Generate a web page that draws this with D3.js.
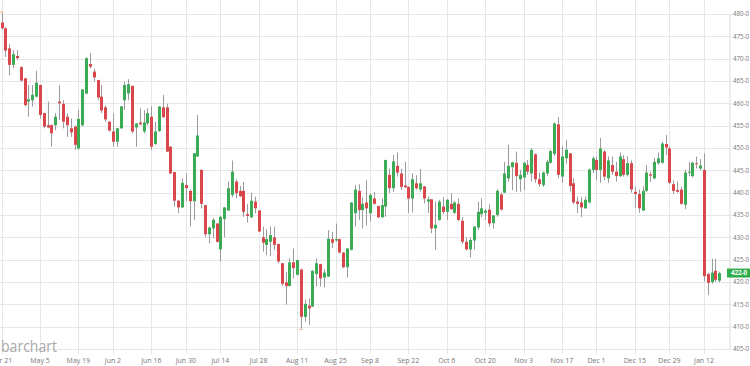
<!DOCTYPE html>
<html>
<head>
<meta charset="utf-8">
<script src="https://cdn.jsdelivr.net/npm/d3@7/dist/d3.min.js"></script>
<style>
  body { margin: 0; background: #fff; }
  svg { display: block; font-family: "Open Sans", sans-serif; }
</style>
</head>
<body>
<div id="chart"></div>
<script>
// trading calendar
const startDate = "2025-04-21";
const endDate = "2026-01-16";
const holidays = ["2025-05-26", "2025-06-19", "2025-07-04", "2025-09-01", "2025-11-27", "2025-12-25", "2026-01-01"];
const tickDates = ["2025-04-21", "2025-05-05", "2025-05-19", "2025-06-02", "2025-06-16", "2025-06-30",
  "2025-07-14", "2025-07-28", "2025-08-11", "2025-08-25", "2025-09-08", "2025-09-22", "2025-10-06",
  "2025-10-20", "2025-11-03", "2025-11-17", "2025-12-01", "2025-12-15", "2025-12-29", "2026-01-12"];
const priceTicks = [405, 410, 415, 420, 425, 430, 435, 440, 445, 450, 455, 460, 465, 470, 475, 480];
const lastPrice = 422.0;

// daily OHLC, one entry per trading day
const open = [478.1,476.8,472.3,468.6,470.6,468.1,465.6,460.4,460.7,461.5,
  464.1,457.8,455.1,455.1,455.1,460.4,459.9,457.0,454.4,454.8,
  449.9,455.1,462.2,468.8,467.1,465.2,461.5,459.1,455.9,453.7,
  451.4,454.4,460.7,462.2,463.9,454.6,455.7,453.7,455.5,457.0,
  450.9,453.8,459.1,459.1,450.3,444.6,438.2,436.7,441.7,440.4,
  438.1,448.1,445.1,437.2,430.7,432.0,433.1,427.3,434.1,436.0,
  439.5,442.5,440.4,440.4,435.2,434.5,438.0,436.0,430.0,428.3,
  429.0,430.0,428.5,424.2,419.9,419.1,424.4,421.6,422.8,412.2,
  414.7,414.5,421.8,424.0,421.0,421.2,429.6,429.3,429.6,426.6,
  423.3,427.2,435.4,440.4,436.1,437.8,435.4,438.7,437.0,434.5,
  436.9,444.0,441.0,446.0,444.3,441.6,441.3,438.7,442.1,440.7,
  441.4,438.0,438.5,432.0,433.9,436.9,435.7,437.5,435.5,437.5,
  433.7,429.0,427.3,429.3,432.2,435.2,435.5,436.2,433.2,435.0,
  439.6,440.0,443.2,445.7,446.7,443.0,443.4,446.2,444.3,448.6,
  443.0,441.7,444.3,446.7,448.7,455.3,443.6,447.7,448.8,442.1,
  438.0,437.8,436.5,437.8,445.1,447.3,445.1,449.2,443.2,446.2,
  444.7,443.7,447.5,444.0,446.6,440.2,439.7,436.0,440.4,444.1,
  443.2,446.6,446.7,450.9,449.9,441.9,440.6,440.7,437.3,444.5,
  443.7,446.6,445.4,445.1,421.8,420.0,422.5,420.3];
const high = [480.2,477.0,473.3,471.9,471.9,468.3,465.7,464.1,464.1,467.3,
  464.2,457.9,460.4,455.3,457.8,464.1,460.7,457.8,456.6,455.0,
  458.5,463.2,470.3,471.2,467.8,465.3,464.1,459.6,456.0,457.8,
  454.5,459.4,464.9,465.4,464.0,455.6,458.9,458.5,458.9,459.3,
  455.9,459.4,461.9,459.9,450.4,444.7,438.4,443.2,444.3,440.7,
  448.9,457.4,445.2,437.3,432.4,434.3,433.2,434.7,436.8,442.5,
  447.2,443.0,441.5,442.4,437.5,440.0,439.1,436.1,432.4,431.8,
  432.4,432.4,428.6,424.3,422.3,425.3,427.5,425.0,423.0,416.0,
  416.3,422.6,425.3,424.1,422.9,431.6,431.2,433.1,429.7,426.7,
  427.6,437.9,441.7,441.9,438.9,442.8,439.9,440.2,437.1,438.7,
  447.4,445.4,448.5,449.0,445.4,446.9,441.4,444.3,443.9,445.3,
  441.5,439.1,438.6,438.0,438.4,439.0,438.6,439.8,438.1,438.7,
  434.5,430.0,430.0,432.5,438.0,438.7,436.3,437.4,435.0,440.8,
  440.0,446.9,450.7,446.9,449.2,445.1,446.8,447.3,449.9,448.8,
  444.5,444.7,447.4,449.6,455.7,456.9,450.4,451.8,448.9,443.2,
  439.1,439.1,439.1,445.4,448.1,448.1,452.2,449.6,448.1,448.1,
  446.9,449.0,448.4,448.1,447.2,441.3,440.7,441.4,446.2,444.7,
  447.8,449.0,451.4,452.9,450.3,442.8,442.5,441.3,445.1,446.9,
  447.0,448.1,447.5,448.8,422.0,425.2,425.2,422.3];
const low = [476.5,470.4,466.3,467.8,469.8,464.9,459.3,457.0,459.3,461.3,
  456.6,454.4,454.4,450.3,454.0,456.3,454.4,452.5,452.5,449.6,
  449.6,454.8,462.0,467.8,464.9,460.7,457.8,455.9,453.7,450.3,
  450.3,454.3,458.5,460.7,453.3,450.3,455.1,453.3,455.1,449.6,
  450.7,453.6,456.7,449.1,444.2,436.9,435.4,436.6,438.2,432.4,
  433.9,448.0,436.5,430.0,428.7,429.8,428.8,424.6,430.0,435.9,
  439.0,438.7,439.0,434.6,433.3,434.3,435.4,431.2,426.8,426.0,
  425.8,427.2,424.2,419.1,414.9,419.0,420.8,421.5,409.6,411.1,
  410.4,414.4,419.0,419.0,418.8,421.1,427.6,429.0,426.4,423.1,
  421.0,427.1,432.4,433.9,432.0,432.6,433.5,437.3,434.3,434.4,
  434.6,439.9,440.2,443.6,440.6,441.0,435.5,435.6,440.7,440.2,
  437.6,435.5,430.9,427.2,433.7,435.2,433.9,436.1,435.2,433.7,
  428.5,427.1,425.5,427.2,431.6,434.5,433.9,432.4,432.0,434.6,
  436.0,439.9,442.4,440.6,440.2,440.2,440.6,444.0,442.5,442.2,
  441.3,441.3,443.7,446.5,448.2,443.2,442.2,446.5,440.2,437.5,
  435.4,434.5,436.4,437.6,444.4,442.8,442.2,442.8,442.2,444.0,
  442.5,443.5,443.6,443.6,440.0,436.6,435.5,435.9,440.2,442.4,
  443.0,446.2,446.5,448.4,442.0,439.7,440.0,437.3,436.3,443.7,
  443.4,445.4,445.1,420.1,417.1,419.6,420.0,419.9];
const close = [476.8,471.8,468.6,471.0,470.1,465.1,459.6,460.9,461.9,464.6,
  457.4,454.8,454.6,453.3,457.0,460.0,455.9,455.1,453.5,450.7,
  456.5,463.1,470.1,468.2,465.8,461.3,458.4,456.4,453.9,451.4,
  454.4,459.3,464.1,464.3,453.7,455.5,455.3,455.7,457.8,450.3,
  453.7,459.3,456.9,449.2,444.3,438.2,436.7,442.2,441.0,438.1,
  448.8,452.8,437.5,430.7,432.2,433.9,429.0,434.6,436.7,441.0,
  444.7,439.9,439.2,435.7,434.8,438.2,436.5,431.3,428.8,429.6,
  430.5,428.3,424.6,419.6,419.1,424.4,423.1,424.9,412.2,415.1,
  414.1,422.5,424.2,420.8,422.1,429.7,428.8,429.6,426.6,423.3,
  427.5,437.8,440.7,436.1,437.5,436.5,439.5,437.5,434.5,437.2,
  447.3,441.0,447.0,444.5,441.3,441.2,438.7,443.0,441.0,442.1,
  438.7,438.5,432.0,432.8,438.0,435.7,438.4,436.3,437.8,433.9,
  429.0,427.3,429.4,432.4,435.7,436.5,436.0,433.1,434.9,440.4,
  436.2,444.3,446.0,446.8,443.7,444.0,446.7,444.7,449.6,443.0,
  441.9,444.5,446.9,449.3,455.5,444.0,448.1,449.6,441.5,437.8,
  437.5,436.7,438.4,445.2,447.7,445.1,449.9,443.6,447.2,444.7,
  443.7,448.1,444.0,446.6,440.7,439.7,436.5,440.4,444.5,443.8,
  446.9,447.7,451.0,450.1,442.2,440.4,440.2,437.5,444.5,444.7,
  446.7,446.4,446.1,421.3,419.8,422.1,420.5,422.0];

const width = 750, height = 366;
const plotRight = 729, plotBottom = 349;
const upColor = "#3cab56", downColor = "#d9474b", wickColor = "#9b9b9b";

const parse = d3.timeParse("%Y-%m-%d");
const fmtKey = d3.timeFormat("%Y-%m-%d");
const holidaySet = new Set(holidays);
const days = d3.timeDays(parse(startDate), d3.timeDay.offset(parse(endDate), 1))
  .filter(d => d.getDay() !== 0 && d.getDay() !== 6 && !holidaySet.has(fmtKey(d)))
  .map(fmtKey);

const candles = days.map((d, i) => ({
  date: d, open: open[i], high: high[i], low: low[i], close: close[i]
}));

const x = d3.scalePoint()
  .domain(days)
  .range([1.6, 1.6 + 3.838 * (days.length - 1)]);

const y = d3.scaleLinear()
  .domain([405, 480])
  .range([plotBottom, 14]);

const svg = d3.select("#chart").append("svg")
  .attr("width", width)
  .attr("height", height);

svg.append("rect").attr("width", width).attr("height", height).attr("fill", "#fff");

// grid
svg.append("g").selectAll("line")
  .data(priceTicks)
  .join("line")
  .attr("x1", 0).attr("x2", plotRight)
  .attr("y1", d => Math.round(y(d)) + 0.5).attr("y2", d => Math.round(y(d)) + 0.5)
  .attr("stroke", "#e6e6e6");

svg.append("g").selectAll("line")
  .data(tickDates)
  .join("line")
  .attr("x1", d => Math.round(x(d)) + 0.5).attr("x2", d => Math.round(x(d)) + 0.5)
  .attr("y1", 0).attr("y2", 354)
  .attr("stroke", "#e6e6e6");

// watermark
svg.append("text")
  .attr("x", 1).attr("y", 352)
  .attr("textLength", 56).attr("lengthAdjust", "spacingAndGlyphs")
  .attr("font-size", 16)
  .attr("fill", "#a8a8a8")
  .text("barchart");

// right price axis
const yAxis = svg.append("g")
  .attr("transform", `translate(${plotRight + 0.5},0)`)
  .call(d3.axisRight(y).tickValues(priceTicks).tickSize(2).tickPadding(1.5)
    .tickFormat(d => d + "-0"));
yAxis.select(".domain").attr("stroke", "#dcdcdc");
yAxis.selectAll(".tick line").attr("stroke", "#dcdcdc");
yAxis.selectAll("text").attr("fill", "#777").attr("font-size", 6.2).attr("font-family", "Open Sans, sans-serif");

// date axis
svg.append("g").selectAll("text")
  .data(tickDates)
  .join("text")
  .attr("x", d => x(d))
  .attr("y", 363)
  .attr("text-anchor", "middle")
  .attr("font-size", 7)
  .attr("fill", "#777")
  .text(d => d3.timeFormat("%b %-d")(parse(d)));

// candles
const g = svg.append("g");
g.selectAll("line.wick")
  .data(candles)
  .join("line")
  .attr("class", "wick")
  .attr("x1", d => Math.round(x(d.date)) + 0.5)
  .attr("x2", d => Math.round(x(d.date)) + 0.5)
  .attr("y1", d => y(d.high))
  .attr("y2", d => y(d.low))
  .attr("stroke", wickColor);

g.selectAll("rect.body")
  .data(candles)
  .join("rect")
  .attr("class", "body")
  .attr("x", d => Math.round(x(d.date)) - 1)
  .attr("width", 3)
  .attr("y", d => y(Math.max(d.open, d.close)))
  .attr("height", d => Math.max(1, Math.abs(y(d.open) - y(d.close))))
  .attr("fill", d => d.close >= d.open ? upColor : downColor);

// high / low markers
const hiC = candles[d3.maxIndex(candles, d => d.high)];
const loC = candles[d3.minIndex(candles, d => d.low)];
svg.append("path")
  .attr("d", `M${x(hiC.date) - 1.5},${y(hiC.high) - 1}h3M${x(loC.date) - 1.5},${y(loC.low) + 1}h3`)
  .attr("stroke", "#f0a27a").attr("stroke-width", 1);

// last price tag
svg.append("rect")
  .attr("x", plotRight - 2).attr("y", y(lastPrice) - 4.5)
  .attr("width", width - plotRight + 2).attr("height", 9)
  .attr("fill", "#2fae4e");
svg.append("text")
  .attr("x", plotRight + 2).attr("y", y(lastPrice) + 2.2)
  .attr("font-size", 6.2).attr("font-weight", "bold")
  .attr("fill", "#fff")
  .text(d3.format(".1f")(lastPrice).replace(".", "-"));
</script>
</body>
</html>
